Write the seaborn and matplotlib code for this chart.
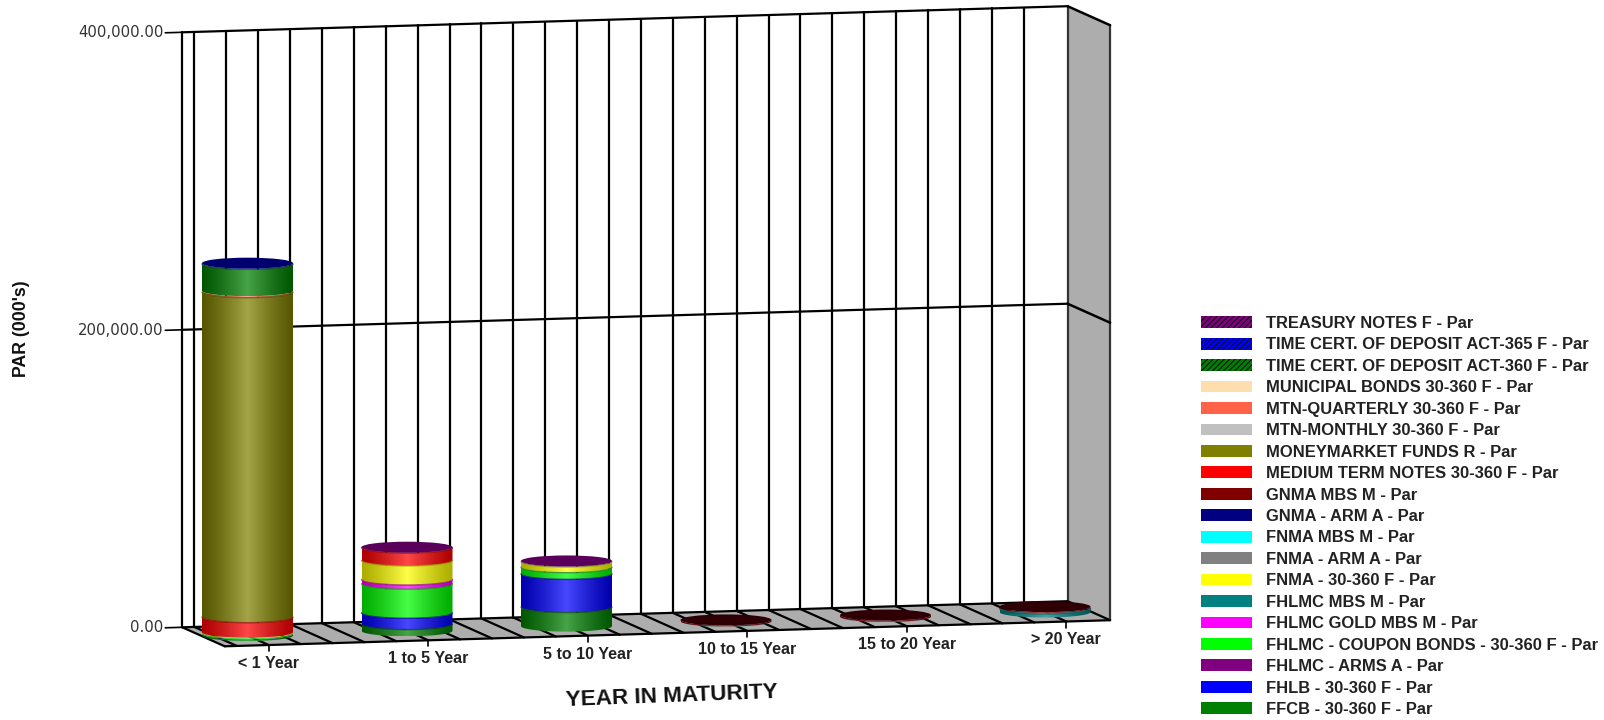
import numpy as np
import seaborn as sns
import matplotlib.pyplot as plt
from matplotlib.colors import to_rgb
from matplotlib.patches import Ellipse, Patch, Polygon
from matplotlib.path import Path

sns.set_theme(style="white")
plt.rcParams["font.family"] = ["Liberation Sans", "DejaVu Sans"]
plt.rcParams["hatch.linewidth"] = 0.8

buckets = ["< 1 Year", "1 to 5 Year", "5 to 10 Year", "10 to 15 Year", "15 to 20 Year", "> 20 Year"]

# values in thousands, stack order is bottom to top
ffcb = [900, 4500, 12800, 0, 0, 0]
fhlb = [200, 7600, 22300, 0, 0, 0]
fhlmc_arms = [0, 0, 0, 0, 0, 0]
fhlmc_coupon = [700, 19500, 4500, 0, 0, 0]
fhlmc_gold = [0, 2900, 300, 0, 0, 0]
fhlmc_mbs = [0, 0, 0, 0, 0, 2400]
fnma_30 = [500, 12800, 3500, 0, 0, 0]
fnma_arm = [0, 0, 0, 0, 0, 0]
fnma_mbs = [0, 0, 200, 200, 100, 500]
gnma_arm = [0, 0, 0, 0, 0, 0]
gnma_mbs = [0, 0, 0, 800, 1000, 700]
medium_term = [10000, 8700, 0, 0, 0, 0]
moneymarket = [218500, 0, 0, 0, 0, 0]
mtn_monthly = [0, 0, 0, 0, 0, 0]
mtn_quarterly = [1000, 0, 0, 0, 0, 0]
municipal = [0, 0, 0, 0, 0, 0]
time_cert_360 = [18000, 0, 0, 0, 0, 0]
time_cert_365 = [500, 0, 0, 0, 0, 0]
treasury = [0, 200, 200, 0, 0, 0]

series_names = [
    "FFCB - 30-360 F - Par",
    "FHLB - 30-360 F - Par",
    "FHLMC - ARMS A - Par",
    "FHLMC - COUPON BONDS - 30-360 F - Par",
    "FHLMC GOLD MBS M - Par",
    "FHLMC MBS M - Par",
    "FNMA - 30-360 F - Par",
    "FNMA - ARM A - Par",
    "FNMA MBS M - Par",
    "GNMA - ARM A - Par",
    "GNMA MBS M - Par",
    "MEDIUM TERM NOTES 30-360 F - Par",
    "MONEYMARKET FUNDS R - Par",
    "MTN-MONTHLY 30-360 F - Par",
    "MTN-QUARTERLY 30-360 F - Par",
    "MUNICIPAL BONDS 30-360 F - Par",
    "TIME CERT. OF DEPOSIT ACT-360 F - Par",
    "TIME CERT. OF DEPOSIT ACT-365 F - Par",
    "TREASURY NOTES F - Par",
]
series_values = [
    ffcb, fhlb, fhlmc_arms, fhlmc_coupon, fhlmc_gold, fhlmc_mbs, fnma_30, fnma_arm,
    fnma_mbs, gnma_arm, gnma_mbs, medium_term, moneymarket, mtn_monthly, mtn_quarterly,
    municipal, time_cert_360, time_cert_365, treasury,
]
series_colors = [
    "#008000", "#0000ff", "#800080", "#00ff00", "#ff00ff", "#008080", "#ffff00", "#808080",
    "#00ffff", "#000080", "#800000", "#ff0000", "#808000", "#c0c0c0", "#ff6347", "#ffdead",
    "#008000", "#0000ff", "#800080",
]
hatched = ["TIME CERT. OF DEPOSIT ACT-360 F - Par", "TIME CERT. OF DEPOSIT ACT-365 F - Par", "TREASURY NOTES F - Par"]
cap_colors = ["#00006e", "#5a005a", "#5a005a", "#2e0005", "#2e0005", "#2e0005"]

# chart geometry in pixels
W, H = 1604, 720
CAT_PX = 159.5
FIRST_X = 247.5
BASE_Y = 635.5
PX_PER_UNIT = 595 / 400000
RISE = 4.7
DEPTH_X, DEPTH_Y = 42.5, 19.0
ELL = 5.5
BAR_WIDTH = 91 / CAT_PX
left_cat, right_cat = -0.276, 5.275


def proj(cat, val, depth):
    # depth 0 is the back wall, depth 1 the front of the floor
    x = cat + (depth - 0.5) * DEPTH_X / CAT_PX
    y = val + (RISE * cat - (depth - 0.5) * DEPTH_Y) / PX_PER_UNIT
    return x, y


def line3d(ax, a, b, lw=1.6, color="black", z=1):
    xa, ya = proj(*a)
    xb, yb = proj(*b)
    ax.plot([xa, xb], [ya, yb], color=color, lw=lw, zorder=z, solid_capstyle="round")


fig = plt.figure(figsize=(W / 100, H / 100), dpi=100)
ax = fig.add_axes([0, 0, 1, 1])
xlim = (-FIRST_X / CAT_PX, (W - FIRST_X) / CAT_PX)
ylim = ((BASE_Y - H) / PX_PER_UNIT, BASE_Y / PX_PER_UNIT)

# floor and right wall
floor = [proj(left_cat, 0, 0), proj(left_cat, 0, 1), proj(right_cat, 0, 1), proj(right_cat, 0, 0)]
wall = [proj(right_cat, 0, 0), proj(right_cat, 400000, 0), proj(right_cat, 400000, 1), proj(right_cat, 0, 1)]
ax.add_patch(Polygon(floor, closed=True, fc="#adadad", ec="none", zorder=0))
ax.add_patch(Polygon(wall, closed=True, fc="#adadad", ec="none", zorder=0))

# grid lines, five to a category
grid_cats = np.arange(-0.2, 5.2, 0.2)
for c in grid_cats:
    line3d(ax, (c, 0, 0), (c, 400000, 0))
    line3d(ax, (c, 0, 0), (c, 0, 1))
line3d(ax, (left_cat, 0, 0), (left_cat, 400000, 0))
line3d(ax, (left_cat, 0, 0), (left_cat, 0, 1))
line3d(ax, (right_cat, 0, 0), (right_cat, 0, 1))
line3d(ax, (right_cat, 0, 0), (right_cat, 400000, 0), color="#333333")
line3d(ax, (right_cat, 0, 1), (right_cat, 400000, 1), color="#333333")
for v in [0, 200000, 400000]:
    line3d(ax, (left_cat, v, 0), (right_cat, v, 0))
for v in [200000, 400000]:
    line3d(ax, (right_cat, v, 0), (right_cat, v, 1), lw=1.8)
line3d(ax, (left_cat, 0, 1), (right_cat, 0, 1))

# y ticks
for v, lab in zip([0, 200000, 400000], ["0.00", "200,000.00", "400,000.00"]):
    line3d(ax, (left_cat - 0.106, v, 0), (left_cat, v, 0), lw=1.2)
    tx, ty = proj(left_cat - 0.118, v, 0)
    ax.text(tx, ty, lab, ha="right", va="center", fontsize=10.7, color="#333333", family="DejaVu Sans")

# x ticks
for i, b in enumerate(buckets):
    tx, ty = proj(i, 0, 1)
    ax.plot([tx, tx], [ty, ty - 6 / PX_PER_UNIT], color="black", lw=1.2, zorder=1)
    ax.text(tx, ty - 11 / PX_PER_UNIT, b, ha="center", va="top", fontsize=11.5, fontweight="bold", color="#222222")

# stacked bars, bottoms carry the floor slope
rise_units = np.arange(len(buckets)) * RISE / PX_PER_UNIT
running = np.zeros(len(buckets))
for vals, col in zip(series_values, series_colors):
    vals = np.array(vals, dtype=float)
    sns.barplot(x=buckets, y=vals, bottom=rise_units + running, color=col, saturation=1,
                width=BAR_WIDTH, errorbar=None, ax=ax)
    running += vals

# turn each flat bar into a shaded cylinder section
ell_units = ELL / PX_PER_UNIT
for z, patch in enumerate(list(ax.patches)):
    if not hasattr(patch, "get_width"):
        continue
    x0, y0 = patch.get_x(), patch.get_y()
    w, h = patch.get_width(), patch.get_height()
    rgb = np.array(to_rgb(patch.get_facecolor()[:3]))
    patch.remove()
    if h <= 0:
        continue
    theta = np.linspace(np.pi, 2 * np.pi, 60)
    arc_x = x0 + w / 2 + w / 2 * np.cos(theta)
    arc_y = ell_units * np.sin(theta)
    verts = np.vstack([np.c_[arc_x, y0 + arc_y], np.c_[arc_x[::-1], y0 + h + arc_y[::-1]], [[arc_x[0], y0 + arc_y[0]]]])
    clip = Path(verts, closed=True)
    t = (1 - np.abs(np.linspace(-1, 1, 120))) ** 1.2
    edge_col = rgb * 0.68
    mid_col = rgb * 0.72 + 0.28
    grad = edge_col + (mid_col - edge_col) * t[:, None]
    im = ax.imshow(grad[None, :, :], extent=(x0, x0 + w, y0 - ell_units, y0 + h), aspect="auto",
                   zorder=3 + z * 0.01, interpolation="bilinear")
    im.set_clip_path(clip, transform=ax.transData)
    if h * PX_PER_UNIT > 2.5:
        ax.plot(arc_x, y0 + h + arc_y, color=rgb * 0.6, lw=1.0, alpha=0.7, zorder=3.5 + z * 0.01)

# end caps
tops = rise_units + running
for i, col in enumerate(cap_colors):
    ax.add_patch(Ellipse((i, tops[i]), BAR_WIDTH, 2 * ell_units, fc=col, ec="none", zorder=5))

ax.set_xlim(xlim)
ax.set_ylim(ylim)
ax.axis("off")

# axis titles
ax.text(672 / W, 1 - 696 / H, "YEAR IN MATURITY", transform=ax.transAxes, ha="center", va="center",
        fontsize=16.2, fontweight="bold", rotation=2.2, color="#111111")
ax.text(22 / W, 0.543, "PAR (000's)", transform=ax.transAxes, ha="center", va="center", rotation=90,
        fontsize=12.8, fontweight="bold", color="#111111")

# legend, top row is the top of the stack
handles = []
for name, col in zip(series_names[::-1], series_colors[::-1]):
    if name in hatched:
        handles.append(Patch(facecolor=col, edgecolor="#111111", hatch="//////", lw=0, label=name))
    else:
        handles.append(Patch(facecolor=col, edgecolor="none", label=name))
ax.legend(handles=handles, loc="upper left", bbox_to_anchor=(1200.5 / W, 1 - 316 / H), bbox_transform=fig.transFigure,
          frameon=False, prop={"weight": "bold", "size": 11.9}, handlelength=3.09, handleheight=0.72,
          handletextpad=0.85, labelspacing=0.39, borderpad=0, borderaxespad=0, labelcolor="#222222")

fig.savefig("out.png", dpi=100)
